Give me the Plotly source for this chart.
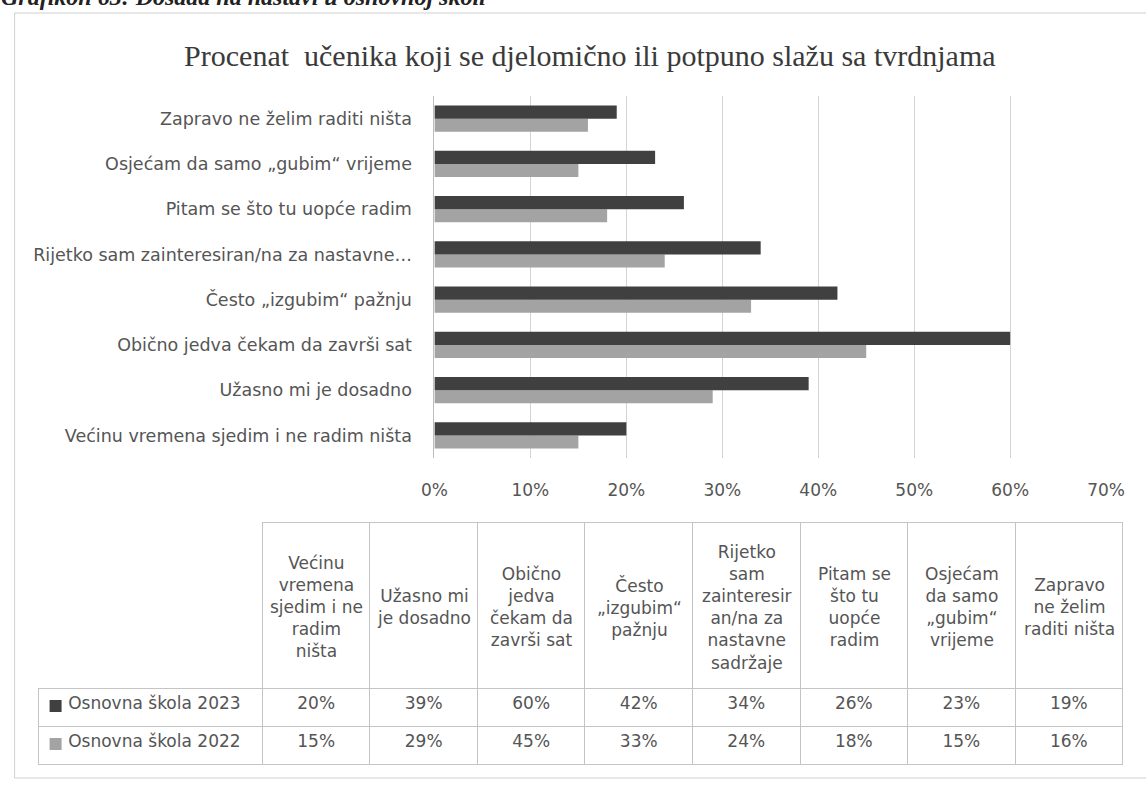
import plotly.graph_objects as go

# categories, bottom to top as they appear on the bar axis
categories = [
    "Većinu vremena sjedim i ne radim ništa",
    "Užasno mi je dosadno",
    "Obično jedva čekam da završi sat",
    "Često „izgubim“ pažnju",
    "Rijetko sam zainteresiran/na za nastavne sadržaje",
    "Pitam se što tu uopće radim",
    "Osjećam da samo „gubim“ vrijeme",
    "Zapravo ne želim raditi ništa",
]
axis_labels = [
    "Većinu vremena sjedim i ne radim ništa",
    "Užasno mi je dosadno",
    "Obično jedva čekam da završi sat",
    "Često „izgubim“ pažnju",
    "Rijetko sam zainteresiran/na za nastavne…",
    "Pitam se što tu uopće radim",
    "Osjećam da samo „gubim“ vrijeme",
    "Zapravo ne želim raditi ništa",
]
# wrapped the way the data table shows them
header_labels = [
    "Većinu<br>vremena<br>sjedim i ne<br>radim<br>ništa",
    "Užasno mi<br>je dosadno",
    "Obično<br>jedva<br>čekam da<br>završi sat",
    "Često<br>„izgubim“<br>pažnju",
    "Rijetko<br>sam<br>zainteresir<br>an/na za<br>nastavne<br>sadržaje",
    "Pitam se<br>što tu<br>uopće<br>radim",
    "Osjećam<br>da samo<br>„gubim“<br>vrijeme",
    "Zapravo<br>ne želim<br>raditi ništa",
]
series_names = ["Osnovna škola 2023", "Osnovna škola 2022"]
vals_2023 = [20, 39, 60, 42, 34, 26, 23, 19]
vals_2022 = [15, 29, 45, 33, 24, 18, 15, 16]
x_ticks = [0, 10, 20, 30, 40, 50, 60, 70]

DARK = "#404040"
LIGHT = "#a3a3a3"
TXT = "#555555"
GRID = "#d4d4d4"
LINE = "#c4c4c4"
FONT = "DejaVu Sans"

W, H = 1146, 786
# the photographed page comes out a little narrower than the figure,
# so horizontal positions are corrected for that
SX, OX = 0.9725, 12.4


def px_x(p):
    return (p - OX) / SX / W


def px_y(p):
    return 1 - p / H


fig = go.Figure()

# 2022 first so it sits under the 2023 bar in each group
fig.add_trace(go.Bar(
    y=categories, x=[v / 100 for v in vals_2022], orientation="h",
    name=series_names[1], marker=dict(color=LIGHT, line=dict(width=0)),
))
fig.add_trace(go.Bar(
    y=categories, x=[v / 100 for v in vals_2023], orientation="h",
    name=series_names[0], marker=dict(color=DARK, line=dict(width=0)),
))

# data table under the chart
TAB_L, TAB_R, TAB_T = 38, 1123, 522
HEAD_H, ROW_H = 166, 38
LEG_W = 224
col_w = [LEG_W] + [(TAB_R - TAB_L - LEG_W) / len(header_labels)] * len(header_labels)

# room on the left of each legend cell for its colour key
legend_cells = ["\u00a0" * 4 + s.replace(" ", "\u00a0") for s in series_names]
columns = [legend_cells]
for a, b in zip(vals_2023, vals_2022):
    columns.append(["%d%%" % a, "%d%%" % b])

fig.add_trace(go.Table(
    domain=dict(x=[px_x(TAB_L), px_x(TAB_R)],
                y=[px_y(TAB_T + HEAD_H + 2 * ROW_H + 1), px_y(TAB_T)]),
    columnwidth=col_w,
    # header text goes on as annotations so every line can be centred
    header=dict(
        values=[""] * (len(header_labels) + 1), height=HEAD_H,
        fill=dict(color="white"),
        line=dict(color=["rgba(0,0,0,0)"] + [LINE] * len(header_labels), width=1),
    ),
    cells=dict(
        values=columns, height=ROW_H,
        align=["left"] + ["center"] * len(header_labels),
        fill=dict(color="white"),
        line=dict(color=LINE, width=1),
        font=dict(family=FONT, size=17, color=TXT),
    ),
))

head_notes = []
left = TAB_L + LEG_W
for lab, w in zip(header_labels, col_w[1:]):
    head_notes.append(dict(
        text=lab, xref="paper", yref="paper",
        x=px_x(left + w / 2), y=px_y(TAB_T + HEAD_H / 2 + 2),
        xanchor="center", yanchor="middle", align="center", showarrow=False,
        font=dict(family=FONT, size=17, color=TXT),
    ))
    left += w

# colour keys in the legend cells of the table
key_rows = [(700, 712, DARK), (738, 750, LIGHT)]
keys = [dict(type="rect", xref="paper", yref="paper",
             x0=px_x(49), x1=px_x(61), y0=px_y(b), y1=px_y(t),
             fillcolor=c, line=dict(width=0), layer="above")
        for t, b, c in key_rows]

fig.update_layout(
    width=W, height=H, autosize=False,
    margin=dict(l=0, r=0, t=0, b=0),
    paper_bgcolor="white", plot_bgcolor="white",
    showlegend=False,
    barmode="group", bargap=0.42, bargroupgap=0,
    font=dict(family=FONT, color=TXT),
    title=dict(
        text="Procenat  učenika koji se djelomično ili potpuno slažu sa tvrdnjama",
        x=px_x(586), y=px_y(55), xanchor="center", yanchor="middle",
        font=dict(family="Liberation Serif", size=30, color="#3a3a3a"),
    ),
    xaxis=dict(
        domain=[px_x(434), px_x(1106)], range=[0, 0.7],
        tickvals=[t / 100 for t in x_ticks],
        ticktext=["%d%%" % t for t in x_ticks],
        showgrid=True, gridcolor=GRID, gridwidth=1,
        zeroline=False, showline=False,
        ticks="", ticklabelstandoff=20,
        tickfont=dict(family=FONT, size=17, color=TXT),
        fixedrange=True,
    ),
    yaxis=dict(
        domain=[px_y(458), px_y(96)],
        tickvals=categories, ticktext=axis_labels,
        showgrid=False, zeroline=False,
        showline=True, linecolor="#bdbdbd", linewidth=1,
        ticks="", ticklabelstandoff=18,
        tickfont=dict(family=FONT, size=17.5, color=TXT),
        fixedrange=True,
    ),
    shapes=[
        # outer chart frame
        dict(type="rect", xref="paper", yref="paper",
             x0=px_x(14), x1=px_x(1152), y0=px_y(778), y1=px_y(13),
             line=dict(color="#d0d0d0", width=1), layer="below"),
    ] + keys,
    annotations=[
        # caption cut off at the top edge of the scan
        dict(text="<i><b>Grafikon 63: Dosada na nastavi u osnovnoj školi</b></i>",
             xref="paper", yref="paper", x=px_x(-2), y=px_y(-3),
             xanchor="left", yanchor="middle", showarrow=False,
             font=dict(family="Liberation Serif", size=24, color="#222222")),
    ] + head_notes,
)

fig.write_html(
    "out.html",
    config={"displayModeBar": False, "responsive": False},
    post_script="document.body.style.margin='0';document.body.style.overflow='hidden';",
)
